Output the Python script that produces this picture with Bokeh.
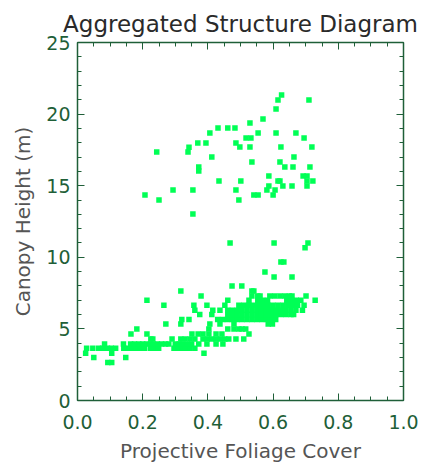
from bokeh.plotting import figure
from bokeh.models import Range1d, LinearAxis, Title, PrintfTickFormatter, SingleIntervalTicker
from bokeh.embed import file_html
from bokeh.resources import INLINE

# Tall canopy (emergent) plots: projective foliage cover vs canopy height (m)
pfc_tall = [0.626, 0.615, 0.710, 0.609, 0.569, 0.529, 0.431, 0.461, 0.483, 0.406,
            0.554, 0.609, 0.670, 0.517, 0.532, 0.695, 0.369, 0.394, 0.486, 0.342,
            0.498, 0.529, 0.624, 0.719, 0.243, 0.339, 0.412, 0.664, 0.535, 0.621,
            0.372, 0.372, 0.636, 0.661, 0.713, 0.587, 0.692, 0.704, 0.434, 0.501,
            0.615, 0.621, 0.704, 0.722, 0.587, 0.630, 0.658, 0.704, 0.581, 0.606,
            0.293, 0.354, 0.486, 0.207, 0.541, 0.554, 0.600, 0.250, 0.495, 0.354]
height_tall = [21.33, 20.98, 20.98, 20.36, 19.66, 19.38, 19.03, 19.03, 19.03, 18.68,
               18.68, 18.68, 18.68, 18.33, 18.33, 18.33, 17.98, 17.98, 17.98, 17.68,
               17.70, 17.70, 17.70, 17.70, 17.36, 17.36, 17.01, 17.01, 16.66, 16.66,
               16.31, 16.03, 16.31, 16.31, 16.31, 15.68, 15.68, 15.68, 15.33, 15.33,
               15.33, 15.33, 15.33, 15.33, 14.98, 14.98, 14.98, 14.98, 14.70, 14.70,
               14.70, 14.70, 14.70, 14.35, 14.35, 14.35, 14.35, 14.01, 14.01, 13.03]

# Intermediate heights
pfc_mid = [0.468, 0.603, 0.707, 0.698, 0.624, 0.633, 0.575, 0.603, 0.658, 0.474, 0.504]
height_mid = [11.0, 11.0, 11.0, 10.66, 9.68, 9.68, 8.98, 8.63, 8.63, 8.0, 8.0]

# Low canopy plots, grouped by recorded height (m)
low_heights = [2.65, 3.0, 3.3, 3.65, 3.95, 4.3, 4.65, 5.0, 5.35, 5.65, 6.0, 6.3, 6.65, 7.0, 7.3, 7.65]
pfc_265 = [0.093, 0.105]
pfc_300 = [0.050, 0.148]
pfc_330 = [0.025, 0.105, 0.388]
pfc_365 = [0.028, 0.047, 0.065, 0.077, 0.092, 0.104, 0.117, 0.142, 0.155, 0.168, 0.180,
           0.193, 0.206, 0.224, 0.237, 0.249, 0.296, 0.308, 0.320, 0.332, 0.345, 0.360]
pfc_395 = [0.083, 0.141, 0.163, 0.175, 0.188, 0.200, 0.212, 0.224, 0.233, 0.245, 0.258,
           0.270, 0.280, 0.300, 0.312, 0.323, 0.336, 0.350, 0.372, 0.397, 0.425, 0.446]
pfc_430 = [0.225, 0.231, 0.290, 0.317, 0.330, 0.345, 0.360, 0.385, 0.398, 0.412, 0.425,
           0.438, 0.452, 0.464, 0.486, 0.510]
pfc_465 = [0.164, 0.213, 0.351, 0.370, 0.385, 0.403, 0.425, 0.443, 0.526]
pfc_500 = [0.182, 0.403, 0.461, 0.480, 0.495, 0.505, 0.516]
pfc_535 = [0.271, 0.317, 0.406, 0.437, 0.480, 0.585, 0.598]
pfc_565 = [0.320, 0.342, 0.430, 0.445, 0.460, 0.475, 0.490, 0.505, 0.520, 0.535, 0.550,
           0.565, 0.580, 0.595, 0.608]
pfc_600 = [0.375, 0.412, 0.461, 0.475, 0.490, 0.505, 0.520, 0.535, 0.550, 0.565, 0.580,
           0.595, 0.610, 0.625, 0.640, 0.655, 0.663]
pfc_630 = [0.360, 0.415, 0.437, 0.461, 0.475, 0.490, 0.505, 0.520, 0.535, 0.550, 0.565,
           0.580, 0.595, 0.610, 0.625, 0.640, 0.655, 0.670, 0.690]
pfc_665 = [0.265, 0.357, 0.397, 0.452, 0.495, 0.510, 0.525, 0.540, 0.556, 0.570, 0.585,
           0.600, 0.615, 0.630, 0.645, 0.660, 0.675, 0.695]
pfc_700 = [0.213, 0.461, 0.526, 0.553, 0.568, 0.583, 0.642, 0.657, 0.671, 0.685, 0.729]
pfc_730 = [0.379, 0.535, 0.553, 0.560, 0.590, 0.605, 0.621, 0.636, 0.650, 0.658, 0.701]
pfc_765 = [0.317, 0.535, 0.541]
low_rows = [pfc_265, pfc_300, pfc_330, pfc_365, pfc_395, pfc_430, pfc_465, pfc_500,
            pfc_535, pfc_565, pfc_600, pfc_630, pfc_665, pfc_700, pfc_730, pfc_765]

xs = pfc_tall + pfc_mid
ys = height_tall + height_mid
for h, row in zip(low_heights, low_rows):
    xs += row
    ys += [h] * len(row)

AXIS_GREEN = "#1f5f38"
FONT = "DejaVu Sans"

p = figure(width=432, height=465, output_backend="svg", toolbar_location=None,
           x_range=Range1d(0, 1), y_range=Range1d(0, 25),
           min_border_left=77, min_border_right=29, min_border_top=42, min_border_bottom=65)
p.grid.visible = False
p.outline_line_color = None
p.background_fill_color = "white"
p.border_fill_color = "white"

p.title.text = "Aggregated Structure Diagram"
p.title.align = "center"
p.title.text_font = FONT
p.title.text_font_size = "23px"
p.title.text_font_style = "normal"
p.title.text_color = "#2a2a2a"
p.title.standoff = 12

bottom = p.below[0]
left = p.left[0]
bottom.ticker = SingleIntervalTicker(interval=0.2, num_minor_ticks=4)
left.ticker = SingleIntervalTicker(interval=5, num_minor_ticks=5)
bottom.formatter = PrintfTickFormatter(format="%.1f")

# mirrored tick marks on the top and right edges, without labels
top = LinearAxis(ticker=SingleIntervalTicker(interval=0.2, num_minor_ticks=4))
right = LinearAxis(ticker=SingleIntervalTicker(interval=5, num_minor_ticks=5))
p.add_layout(top, "above")
p.add_layout(right, "right")

for ax in (bottom, left, top, right):
    ax.axis_line_color = AXIS_GREEN
    ax.axis_line_width = 1.5
    ax.major_tick_line_color = AXIS_GREEN
    ax.minor_tick_line_color = AXIS_GREEN
    ax.major_tick_in = 7
    ax.major_tick_out = 0
    ax.minor_tick_in = 4
    ax.minor_tick_out = 0
    ax.major_label_text_color = AXIS_GREEN
    ax.major_label_text_font = FONT
    ax.major_label_text_font_size = "19px"

for ax in (top, right):
    ax.major_label_text_color = None
    ax.major_label_text_font_size = "1px"
    ax.major_label_standoff = 0

bottom.major_label_standoff = 14
bottom.axis_label = "Projective Foliage Cover"
bottom.axis_label_text_font = FONT
bottom.axis_label_text_font_size = "20px"
bottom.axis_label_text_font_style = "normal"
bottom.axis_label_text_color = "#555555"
bottom.axis_label_standoff = 7

left.major_label_standoff = 7

p.add_layout(Title(text="Canopy Height (m)", align="center",
                   text_font=FONT, text_font_size="20px", text_font_style="normal",
                   text_color="#555555", standoff=17), "left")

p.scatter(xs, ys, marker="square", size=5.5, fill_color="#00ff55", line_color=None)

open("out.html", "w").write(file_html(p, INLINE))
